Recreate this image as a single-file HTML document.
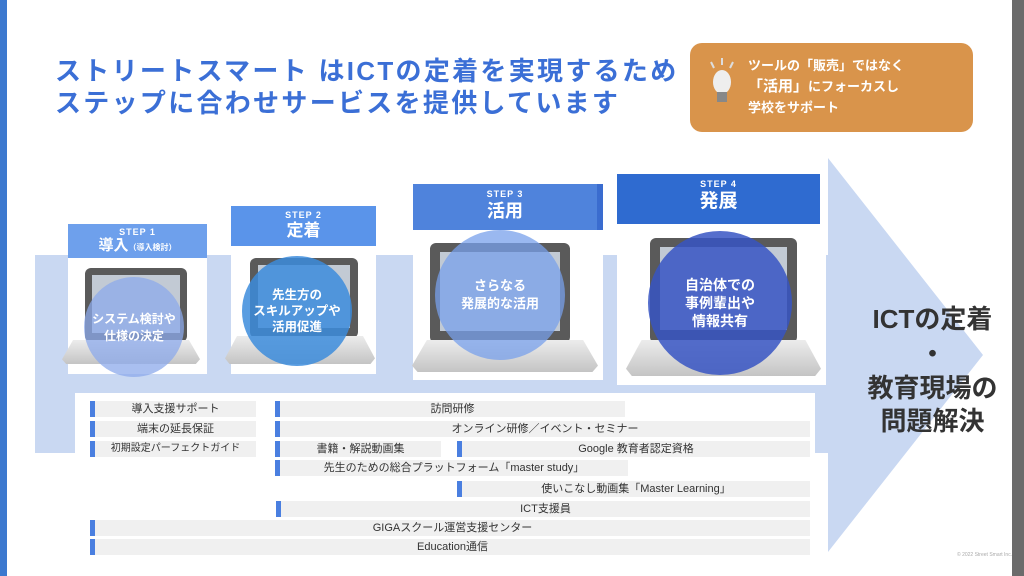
<!DOCTYPE html>
<html><head><meta charset="utf-8"><style>
*{margin:0;padding:0;box-sizing:border-box}
body{width:1024px;height:576px;position:relative;overflow:hidden;background:#fff;font-family:"Liberation Sans","Noto Sans CJK JP",sans-serif}
.a{position:absolute}
.title{left:55px;top:55px;color:#3b6fd6;font-size:26px;font-weight:bold;line-height:32px;letter-spacing:2.3px}
.hdr{position:absolute;color:#fff;text-align:center;font-weight:bold}
.hdr .s{font-size:9px;letter-spacing:1px}
.img{position:absolute;background:#fff}
.scr{position:absolute;background:#5a5a5a;border-radius:6px}
.scr i{position:absolute;left:7%;top:9%;right:7%;bottom:12%;background:#c2cad4}
.base{position:absolute;background:linear-gradient(#ececec,#c4c4c4);clip-path:polygon(8% 0,92% 0,100% 80%,97% 100%,3% 100%,0 80%)}
.cir{position:absolute;border-radius:50%;color:#fff;font-weight:bold;display:flex;align-items:center;justify-content:center;text-align:center}
.row{position:absolute;height:16px;background:#f0f0f0;border-left:5px solid #4a7fe0;color:#333;font-size:11px;line-height:16px;text-align:center}
.rt{position:absolute;left:850px;width:165px;text-align:center;color:#333;font-weight:bold;font-size:26px;line-height:33px}
</style></head><body>
<div class="a" style="left:0;top:0;width:7px;height:576px;background:#3c79cf"></div>
<div class="a" style="left:1012px;top:0;width:12px;height:576px;background:#6b6b6b"></div>
<div class="a title">ストリートスマート はICTの定着を実現するため<br>ステップに合わせサービスを提供しています</div>
<div class="a" style="left:690px;top:43px;width:283px;height:89px;background:#d9944b;border-radius:12px"></div>
<svg class="a" style="left:706px;top:56px" width="36" height="54"><g stroke="#ddd" stroke-width="2"><line x1="5" y1="6" x2="8" y2="12"/><line x1="16" y1="2" x2="16" y2="9"/><line x1="27" y1="6" x2="24" y2="12"/></g><ellipse cx="16" cy="26" rx="9" ry="12" fill="#eee"/><rect x="11" y="36" width="10" height="10" fill="#888"/></svg>
<div class="a" style="left:748px;top:55px;color:#fff;font-size:13px;line-height:21px;font-weight:bold">ツールの「販売」ではなく<br><span style="font-size:15px">「活用」</span>にフォーカスし<br>学校をサポート</div>
<div class="a" style="left:35px;top:255px;width:795px;height:198px;background:#c9d8f2"></div>
<svg class="a" style="left:0;top:0" width="1024" height="576"><polygon points="828,158 983,355 828,552" fill="#c9d8f2"/></svg>
<div class="a" style="left:75px;top:393px;width:740px;height:167px;background:#fff"></div>
<div class="rt" style="top:303px">ICTの定着</div>
<div class="rt" style="top:338px">・</div>
<div class="rt" style="top:372px">教育現場の<br>問題解決</div>
<div class="img" style="left:68px;top:258px;width:139px;height:116px"></div>
<div class="scr" style="left:85px;top:268px;width:102px;height:74px"><i></i></div>
<div class="base" style="left:62px;top:340px;width:138px;height:24px"></div>
<div class="hdr" style="left:68px;top:224px;width:139px;height:34px;background:#6ea0ec;padding-top:3px"><div class="s">STEP 1</div><div style="font-size:15px;line-height:18px">導入<span style="font-size:8px">（導入検討）</span></div></div>
<div class="cir" style="left:84px;top:277px;width:100px;height:100px;background:rgba(140,170,235,.75);font-size:12px">システム検討や<br>仕様の決定</div>
<div class="img" style="left:231px;top:246px;width:145px;height:128px"></div>
<div class="scr" style="left:250px;top:258px;width:108px;height:80px"><i></i></div>
<div class="base" style="left:225px;top:336px;width:150px;height:28px"></div>
<div class="hdr" style="left:231px;top:206px;width:145px;height:40px;background:#5a94ea;padding-top:4px"><div class="s">STEP 2</div><div style="font-size:17px;line-height:22px">定着</div></div>
<div class="cir" style="left:242px;top:256px;width:110px;height:110px;background:rgba(60,140,220,.85);font-size:12.5px;line-height:16px">先生方の<br>スキルアップや<br>活用促進</div>
<div class="img" style="left:413px;top:230px;width:190px;height:150px"></div>
<div class="scr" style="left:430px;top:243px;width:140px;height:100px"><i></i></div>
<div class="base" style="left:412px;top:340px;width:186px;height:32px"></div>
<div class="hdr" style="left:413px;top:184px;width:190px;height:46px;background:#4f83dc;border-right:6px solid #3a6ccf;padding-top:5px"><div class="s">STEP 3</div><div style="font-size:18px;line-height:24px">活用</div></div>
<div class="cir" style="left:435px;top:230px;width:130px;height:130px;background:rgba(120,160,235,.75);font-size:13px;line-height:18px">さらなる<br>発展的な活用</div>
<div class="img" style="left:617px;top:224px;width:209px;height:161px"></div>
<div class="scr" style="left:650px;top:238px;width:147px;height:105px"><i></i></div>
<div class="base" style="left:626px;top:340px;width:195px;height:36px"></div>
<div class="hdr" style="left:617px;top:174px;width:203px;height:50px;background:#2f6bd0;padding-top:5px"><div class="s">STEP 4</div><div style="font-size:19px;line-height:26px">発展</div></div>
<div class="cir" style="left:648px;top:231px;width:144px;height:144px;background:rgba(55,85,195,.85);font-size:14px;line-height:18px">自治体での<br>事例輩出や<br>情報共有</div>
<div class="row" style="left:90px;top:401px;width:166px">導入支援サポート</div>
<div class="row" style="left:90px;top:421px;width:166px">端末の延長保証</div>
<div class="row" style="left:90px;top:441px;width:166px;font-size:10px">初期設定パーフェクトガイド</div>
<div class="row" style="left:275px;top:401px;width:350px">訪問研修</div>
<div class="row" style="left:275px;top:421px;width:535px">オンライン研修／イベント・セミナー</div>
<div class="row" style="left:275px;top:441px;width:166px">書籍・解説動画集</div>
<div class="row" style="left:457px;top:441px;width:353px">Google 教育者認定資格</div>
<div class="row" style="left:275px;top:460px;width:353px">先生のための総合プラットフォーム「master study」</div>
<div class="row" style="left:457px;top:481px;width:353px">使いこなし動画集「Master Learning」</div>
<div class="row" style="left:276px;top:501px;width:534px">ICT支援員</div>
<div class="row" style="left:90px;top:520px;width:720px">GIGAスクール運営支援センター</div>
<div class="row" style="left:90px;top:539px;width:720px">Education通信</div>
<div class="a" style="left:957px;top:552px;font-size:5px;color:#aaa">© 2022 Street Smart Inc.</div>
</body></html>
